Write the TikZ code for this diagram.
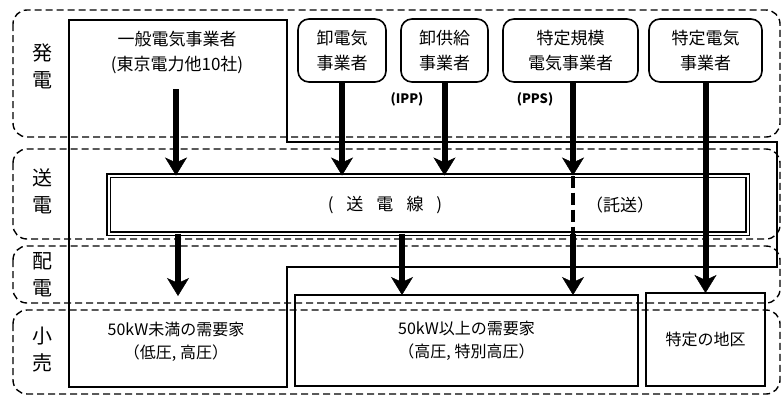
\documentclass[tikz,border=0pt]{standalone}
\usepackage{fontspec}
\setmainfont{Noto Sans CJK JP}
\usetikzlibrary{arrows.meta}
\begin{document}
\begin{tikzpicture}[x=1pt,y=-1pt,
  region/.style={draw, dash pattern=on 7pt off 4pt, line width=1.4pt, rounded corners=14pt},
  box/.style={draw, line width=1.6pt, inner sep=0pt, outer sep=0pt},
  rbox/.style={box, rounded corners=11pt, minimum height=63pt, align=center, font=\fontsize{17}{25}\selectfont},
  lab/.style={font=\fontsize{20}{27}\selectfont, align=center},
  txt/.style={font=\fontsize{17}{25}\selectfont, align=center},
  btxt/.style={font=\fontsize{16}{23}\selectfont, align=center},
  small/.style={font=\fontsize{13}{15}\selectfont\bfseries},
  arr/.style={line width=6pt, -{Stealth[length=18pt,width=22pt,inset=5pt,line width=0.5pt]}},
  dashline/.style={line width=4pt, dash pattern=on 12pt off 5pt}
  ]
\useasboundingbox (0,0) rectangle (781,397);

% regions
\draw[region] (13,10) rectangle (780,137);
\draw[region] (13,149) rectangle (780,239);
\draw[region] (13,246) rectangle (780,303);
\draw[region] (13,310) rectangle (780,394);

\node[lab] (gen) at (42,66.5) {発\\電};
\node[lab] (trans) at (42,191.5) {送\\電};
\node[lab] (dist) at (42,275) {配\\電};
\node[lab] (retail) at (42,350) {小\\売};

% big utility polygon
\draw[box, line join=miter] (69,20) -- (287,20) -- (287,142) -- (777,142) -- (777,267) -- (287,267) -- (287,387) -- (69,387) -- cycle;
\node[txt] (ippan) at (177,52.5) {一般電気事業者\\(東京電力他10社)};
\node[btxt] (low) at (176,341.5) {50kW未満の需要家\\（低圧, 高圧）};

% generators
\node[rbox, minimum width=88pt] (oroshi) at (342,50.5) {卸電気\\事業者};
\node[rbox, minimum width=87pt] (ipp) at (444.5,50.5) {卸供給\\事業者};
\node[rbox, minimum width=135pt] (pps) at (570.5,50.5) {特定規模\\電気事業者};
\node[rbox, minimum width=113pt] (tokutei) at (705.5,50.5) {特定電気\\事業者};
\node[small] (ippl) at (407,99) {(IPP)};
\node[small] (ppsl) at (535,99) {(PPS)};

% transmission line
\node[draw, double, line width=1.4pt, double distance=2pt, minimum width=639pt, minimum height=58pt, inner sep=0pt, outer sep=0pt] (line) at (428,204.5) {};
\node[txt] (linetxt) at (385,205) {(\hspace{13pt}送\hspace{13pt}電\hspace{13pt}線\hspace{13pt})};
\node[txt] (takuso) at (620,205) {（託送）};

% customers
\node[box, minimum width=343pt, minimum height=91pt, btxt] (hi) at (466.5,340.5) {50kW以上の需要家\\（高圧, 特別高圧）};
\node[box, minimum width=119pt, minimum height=93pt, btxt] (area) at (705.5,339.5) {特定の地区};

% connectors
\coordinate (gsrc) at (176,89);
\coordinate (ppsx) at ([xshift=2.5pt]pps.south);
\coordinate (lowin) at (178,296);
\coordinate (hiin) at (402,295);

\draw[arr] (gsrc) -- (gsrc |- line.north);
\draw[arr] (oroshi.south) -- (oroshi.south |- line.north);
\draw[arr] (ipp.south) -- (ipp.south |- line.north);
\draw[arr] (ppsx) -- (ppsx |- line.north);
\draw[dashline] (ppsx |- line.north) -- (ppsx |- line.south);
\draw[arr] (ppsx |- line.south) -- (ppsx |- hi.north);
\draw[arr] (tokutei.south) -- (tokutei.south |- area.north);
\draw[arr] (lowin |- line.south) -- (lowin);
\draw[arr] (hiin |- line.south) -- (hiin);
\end{tikzpicture}
\end{document}
